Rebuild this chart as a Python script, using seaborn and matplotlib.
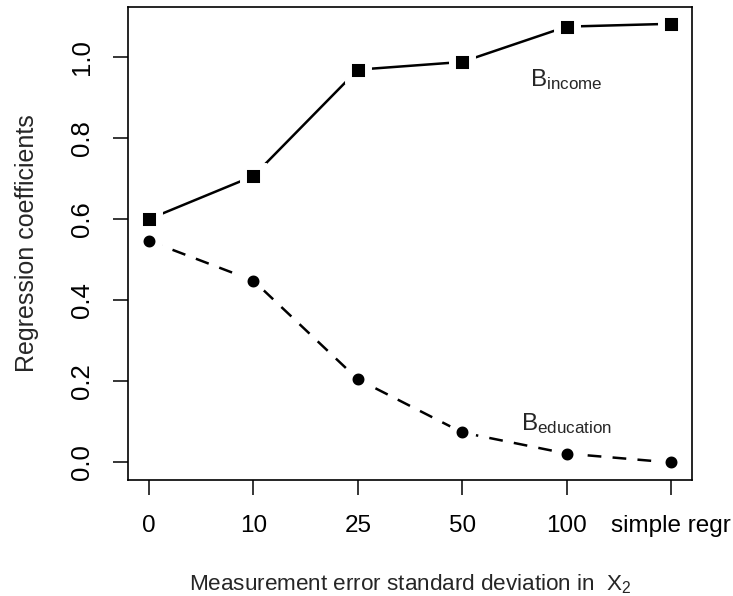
import matplotlib
matplotlib.use("Agg")
import matplotlib.pyplot as plt
import seaborn as sns
import pandas as pd

categories = ["0", "10", "25", "50", "100", "simple regr"]
income = [0.600, 0.706, 0.968, 0.987, 1.074, 1.081]
education = [0.546, 0.448, 0.205, 0.074, 0.022, 0.000]
yticks = [0.0, 0.2, 0.4, 0.6, 0.8, 1.0]

sns.set_style("white")
plt.rcParams["font.family"] = ["Liberation Sans", "DejaVu Sans"]
plt.rcParams["mathtext.fontset"] = "custom"
plt.rcParams["mathtext.rm"] = "Liberation Sans"
plt.rcParams["mathtext.it"] = "Liberation Sans"

df = pd.DataFrame({
    "pos": list(range(len(categories))) * 2,
    "coef": income + education,
    "series": ["income"] * len(income) + ["education"] * len(education),
})

fig = plt.figure(figsize=(7.33, 5.96), dpi=100)
ax = fig.add_axes([0.175, 0.1946, 0.7687, 0.7942])

d_inc = df[df.series == "income"]
d_edu = df[df.series == "education"]
sns.lineplot(data=d_inc, x="pos", y="coef", ax=ax, color="black", lw=1.8,
             marker="s", markersize=14.0, markerfacecolor="black",
             markeredgecolor="white", markeredgewidth=5.0, zorder=3)
sns.lineplot(data=d_edu, x="pos", y="coef", ax=ax, color="black", lw=1.8,
             linestyle=(0, (5.5, 4.5)),
             marker="o", markersize=14.2, markerfacecolor="black",
             markeredgecolor="white", markeredgewidth=5.6, zorder=2)

n = len(categories)
ax.set_xlim(-0.04 * (n - 1), (n - 1) * 1.04)
ax.set_ylim(-0.04 * 1.08, 1.08 * 1.04)
ax.set_xticks(range(n))
ax.set_xticklabels(categories, fontsize=17.5)
ax.set_yticks(yticks)
ax.set_yticklabels([f"{v:.1f}" for v in yticks], rotation=90, va="center",
                   fontsize=18.5)
ax.tick_params(axis="both", direction="out", length=11, width=1.1,
               color="black", labelcolor="black", pad=14,
               bottom=True, left=True)
for s in ax.spines.values():
    s.set_visible(True)
    s.set_color("black")
    s.set_linewidth(1.2)

ax.set_xlabel(r"Measurement error standard deviation in  $\mathregular{X_2}$",
              fontsize=16.2, labelpad=26)
ax.set_ylabel("Regression coefficients", fontsize=18, labelpad=22)

ax.text(4, 0.943, r"$\mathregular{B_{income}}$", fontsize=17.5,
        ha="center", va="center")
ax.text(4, 0.097, r"$\mathregular{B_{education}}$", fontsize=17.5,
        ha="center", va="center")

fig.savefig("out.png", dpi=100, facecolor="white")
